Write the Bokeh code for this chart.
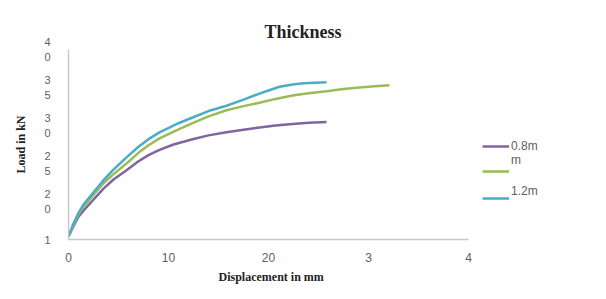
from bokeh.plotting import figure
from bokeh.models import Legend, LegendItem, FixedTicker, Range1d, Title
from bokeh.embed import file_html
from bokeh.resources import INLINE

# Data
disp_08 = [0, 0.4, 1.0, 1.5, 2.4, 3.5, 4.5, 5.8, 7.0, 8.0, 9.1, 10.5, 12.4, 14.0,
           15.8, 17.5, 19.1, 20.7, 22.4, 24.0, 25.8]
load_08 = [15.4, 16.5, 18.0, 18.8, 20.1, 21.7, 22.9, 24.1, 25.3, 26.1, 26.8, 27.5, 28.2, 28.7,
           29.1, 29.45, 29.75, 30.0, 30.2, 30.35, 30.45]
disp_10 = [0, 0.4, 1.0, 1.5, 2.4, 3.5, 4.5, 5.8, 7.0, 8.0, 9.1, 11.0, 12.4, 14.0,
           15.8, 17.5, 19.1, 20.7, 22.4, 24.0, 25.8, 27.5, 29.1, 30.6, 32.1]
load_10 = [15.4, 16.6, 18.3, 19.3, 20.7, 22.4, 23.6, 25.0, 26.4, 27.4, 28.3, 29.5, 30.3, 31.2,
           32.0, 32.55, 33.0, 33.5, 33.95, 34.25, 34.5, 34.8, 35.0, 35.15, 35.3]
disp_12 = [0, 0.4, 1.0, 1.5, 2.4, 3.5, 4.5, 5.8, 7.0, 8.0, 9.1, 11.0, 12.4, 14.0,
           15.8, 17.5, 19.1, 20.0, 21.1, 22.4, 23.5, 25.8]
load_12 = [15.4, 16.8, 18.5, 19.6, 21.05, 22.8, 24.2, 25.8, 27.2, 28.2, 29.1, 30.3, 31.05, 31.9,
           32.6, 33.4, 34.2, 34.6, 35.1, 35.4, 35.55, 35.7]

x_ticks = [0, 10, 20, 30, 40]
x_tick_labels = ["0", "10", "20", "3", "4"]
y_ticks = [15, 20, 25, 30, 35, 40]
y_tick_labels = ["1", "2\n0", "2\n5", "3\n0", "3\n5", "4\n0"]

series_labels = [" \n0.8m\nm", " ", "1.2m\n "]
colors = ["#8064A2", "#9BBB59", "#4BACC6"]

p = figure(width=590, height=283, output_backend="svg", toolbar_location=None,
           x_range=Range1d(0, 52), y_range=Range1d(15, 40),
           frame_width=520, frame_height=190,
           min_border_left=68, min_border_right=2, min_border_top=49, min_border_bottom=44,
           title="Thickness")
p.outline_line_color = None
p.grid.grid_line_color = None
p.background_fill_color = "white"

p.title.text_font = "Liberation Serif"
p.title.text_font_style = "bold"
p.title.text_font_size = "18px"
p.title.text_color = "#222222"
p.title.align = "left"
p.title.offset = 196
p.title.standoff = 15

r1 = p.line(disp_08, load_08, line_color=colors[0], line_width=2.5)
r2 = p.line(disp_10, load_10, line_color=colors[1], line_width=2.5)
r3 = p.line(disp_12, load_12, line_color=colors[2], line_width=2.5)

for ax in (p.xaxis[0], p.yaxis[0]):
    ax.axis_line_color = "#c8c8c8"
    ax.axis_line_width = 1.5
    ax.major_tick_line_color = None
    ax.minor_tick_line_color = None
    ax.major_label_text_font = "Liberation Sans"
    ax.major_label_text_font_size = "12px"
    ax.major_label_text_color = "#606060"
    ax.axis_label_text_font = "Liberation Serif"
    ax.axis_label_text_font_style = "bold"
    ax.axis_label_text_font_size = "12px"
    ax.axis_label_text_color = "#222222"

p.xaxis[0].bounds = (0, 40)
p.xaxis[0].ticker = FixedTicker(ticks=x_ticks)
p.xaxis[0].major_label_overrides = dict(zip(x_ticks, x_tick_labels))
p.xaxis[0].major_label_standoff = 7

xlabel = Title(text="Displacement in mm", align="left", offset=150, standoff=6,
               text_font="Liberation Serif", text_font_style="bold",
               text_font_size="12px", text_color="#222222")
p.add_layout(xlabel, "below")

p.yaxis[0].ticker = FixedTicker(ticks=y_ticks)
p.yaxis[0].major_label_overrides = dict(zip(y_ticks, y_tick_labels))
p.yaxis[0].major_label_text_font_size = "11px"
p.yaxis[0].major_label_standoff = 12
p.yaxis[0].major_label_orientation = "horizontal"
p.yaxis[0].axis_label = "Load in kN"
p.yaxis[0].axis_label_standoff = 13

legend_locs = [(414, 72), (414, 58), (414, 27)]
for lbl, rend, loc in zip(series_labels, [r1, r2, r3], legend_locs):
    lg = Legend(items=[LegendItem(label=lbl, renderers=[rend])], location=loc)
    lg.border_line_color = None
    lg.background_fill_alpha = 0
    lg.label_text_font = "Liberation Sans"
    lg.label_text_font_size = "12px"
    lg.label_text_color = "#606060"
    lg.glyph_width = 27
    lg.label_standoff = 2
    lg.spacing = 0
    lg.padding = 0
    lg.margin = 0
    p.add_layout(lg)

open("out.html", "w").write(file_html(p, INLINE))
